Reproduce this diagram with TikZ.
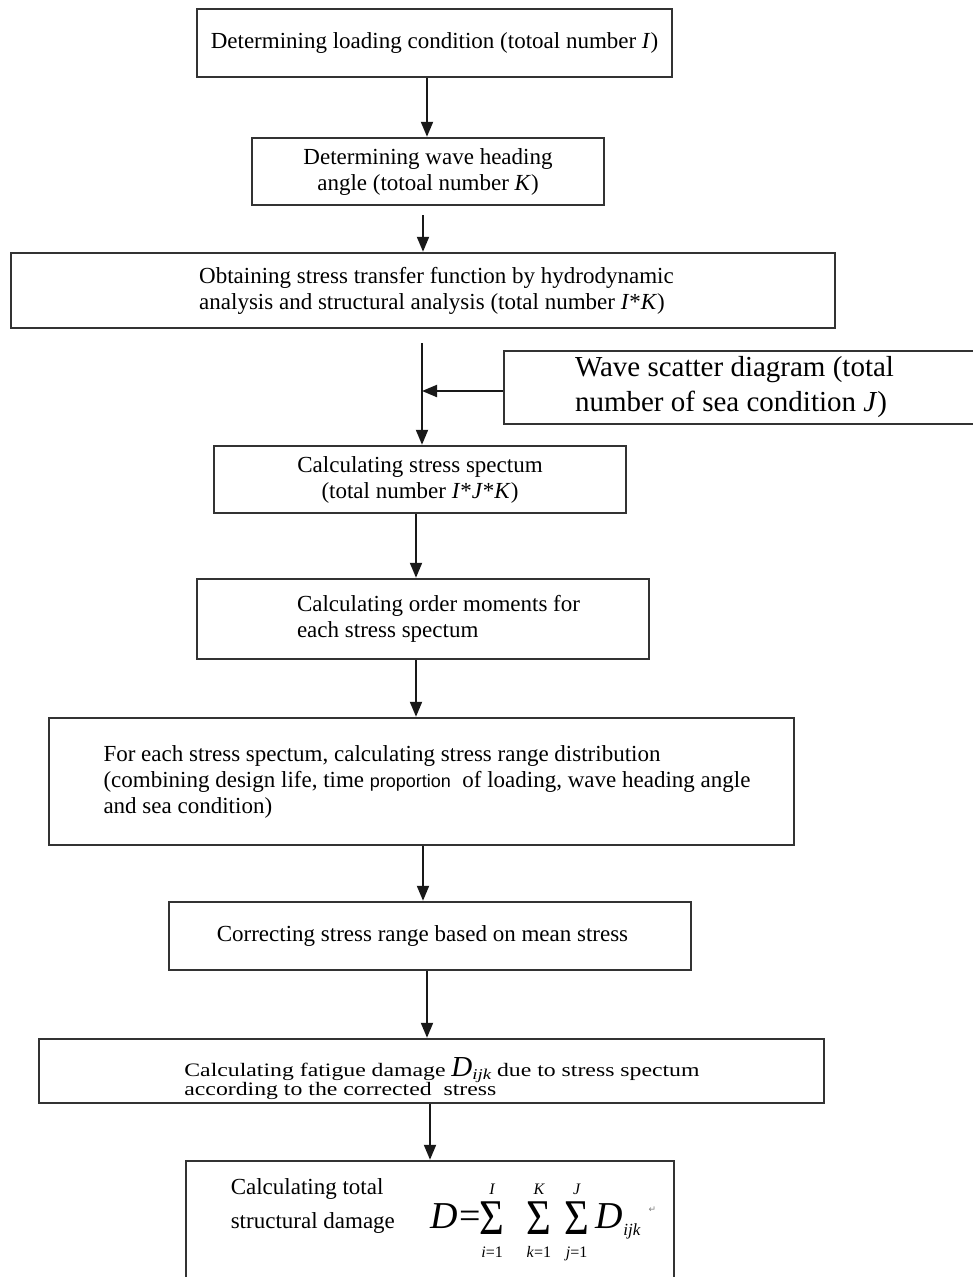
\documentclass[tikz,border=0pt]{standalone}
\usepackage{fontspec}
\setmainfont{Liberation Serif}
\newfontfamily\widefont[FakeStretch=1.25]{Liberation Serif}
\newfontfamily\arialfont{Liberation Sans}
\newfontfamily\symfont{DejaVu Sans}
\usetikzlibrary{%
  arrows.meta,%
  positioning,%
  calc%
}

% one sum sign with small limits above and below
\newcommand{\sumlim}[2]{%
  \begin{tabular}[c]{@{}c@{}}
  {\fontsize{16}{16}\selectfont\itshape #1}\\[3pt]
  \raisebox{-3pt}{\scalebox{0.85}[1]{\fontsize{50}{50}\selectfont Σ}}\\[10pt]
  {\fontsize{16}{16}\selectfont #2}
  \end{tabular}}

\begin{document}
\begin{tikzpicture}
  [
  x=1pt, y=-1pt,
  font=\fontsize{23}{26}\selectfont, line width=2pt, >={Triangle[length=15pt,width=12pt]},
  stepbox/.style={rectangle, draw=black!80, line width=2.5pt, inner sep=0pt, align=center},
  boxtext/.style={inner sep=0pt, align=left},
  flow/.style={->, draw=black!90, line width=2pt}
  ]
\useasboundingbox (0,0) rectangle (973,1277);

\node[stepbox, minimum width=475, minimum height=68] (load) at (434.5,43)
  {Determining loading condition (totoal number \textit{I})};
\node[stepbox, minimum width=352, minimum height=67] (head) at (428,171.5)
  {Determining wave heading\\angle (totoal number \textit{K})};
\node[stepbox, minimum width=824, minimum height=75,
  label={[boxtext, xshift=13.5pt]center:{Obtaining stress transfer function by hydrodynamic\\
   analysis and structural analysis (total number \textit{I}*\textit{K})}}] (hydro) at (423,290.5) {};
\node[stepbox, minimum width=486, minimum height=73,
  label={[boxtext, xshift=-12.5pt, font=\fontsize{29}{35}\selectfont]center:{Wave scatter diagram (total\\
   number of sea condition \textit{J})}}] (wave) at (747,387.5) {};
\node[stepbox, minimum width=412, minimum height=67] (spec) at (420,479.5)
  {Calculating stress spectum\\(total number \textit{I}*\textit{J}*\textit{K})};
\node[stepbox, minimum width=452, minimum height=80,
  label={[boxtext, xshift=15.5pt]center:{Calculating order moments for\\each stress spectum}}] (moment) at (423,619) {};
\node[stepbox, minimum width=745, minimum height=127,
  label={[boxtext, xshift=5.5pt]center:{For each stress spectum, calculating stress range distribution\\
   (combining design life, time {\arialfont\fontsize{18}{20}\selectfont proportion}\ \ of loading, wave heading angle\\
   and sea condition)}}] (range) at (421.5,781.5) {};
\node[stepbox, minimum width=522, minimum height=68] (correct) at (430,936)
  {\hspace*{-15pt}Correcting stress range based on mean stress};
\node[stepbox, minimum width=785, minimum height=64,
  label={[boxtext, xshift=10.5pt, yshift=-10pt, font=\widefont\fontsize{19}{19}\selectfont]center:{Calculating fatigue damage
   \smash{\rmfamily\fontsize{29}{29}\selectfont\itshape D}\raisebox{-3pt}[0pt][0pt]{\fontsize{15}{15}\selectfont\itshape ijk} due to stress spectum\\
   according to the corrected\ \ stress}}] (fatigue) at (431.5,1071) {};
\node[stepbox, minimum width=488, minimum height=129,
  label={[boxtext, xshift=13.5pt, yshift=6pt]center:{\raisebox{16pt}{\begin{tabular}{@{}l@{}}Calculating total\\[8pt]structural damage\end{tabular}}\hspace{36pt}%
   {\fontsize{38}{16}\selectfont\textit{D}\hspace{1pt}=\hspace{-1pt}\sumlim{I}{\textit{i}=1}\hspace{22pt}\sumlim{K}{\textit{k}=1}\hspace{13pt}\sumlim{J}{\textit{j}=1}\hspace{7pt}\textit{D}\raisebox{-7pt}{\fontsize{17}{17}\selectfont\textit{ijk}}}%
   \hspace{8pt}\raisebox{16pt}{\symfont\fontsize{9}{9}\selectfont\color{gray}↵}}}] (total) at (430,1225.5) {};

\draw[flow] ([xshift=-7.5pt]load.south) -- ([xshift=-7.5pt]load.south |- head.north);
\draw[flow, shorten <=9pt] ([xshift=-5pt]head.south) -- ([xshift=-5pt]head.south |- hydro.north);
\draw[flow, shorten <=14pt] ([xshift=-1pt]hydro.south) -- ([xshift=-1pt]hydro.south |- spec.north);
\coordinate (join) at ([xshift=-1pt,yshift=-3.5pt]hydro.south |- wave.west);
\draw[flow] ([yshift=-3.5pt]wave.west) -- (join);
\draw[flow] ([xshift=-4pt]spec.south) -- ([xshift=-4pt]spec.south |- moment.north);
\draw[flow] ([xshift=-7pt]moment.south) -- ([xshift=-7pt]moment.south |- range.north);
\draw[flow] ([xshift=1.5pt]range.south) -- ([xshift=1.5pt]range.south |- correct.north);
\draw[flow] ([xshift=-3pt]correct.south) -- ([xshift=-3pt]correct.south |- fatigue.north);
\draw[flow] ([xshift=-1.5pt]fatigue.south) -- ([xshift=-1.5pt]fatigue.south |- total.north);
\end{tikzpicture}
\end{document}
